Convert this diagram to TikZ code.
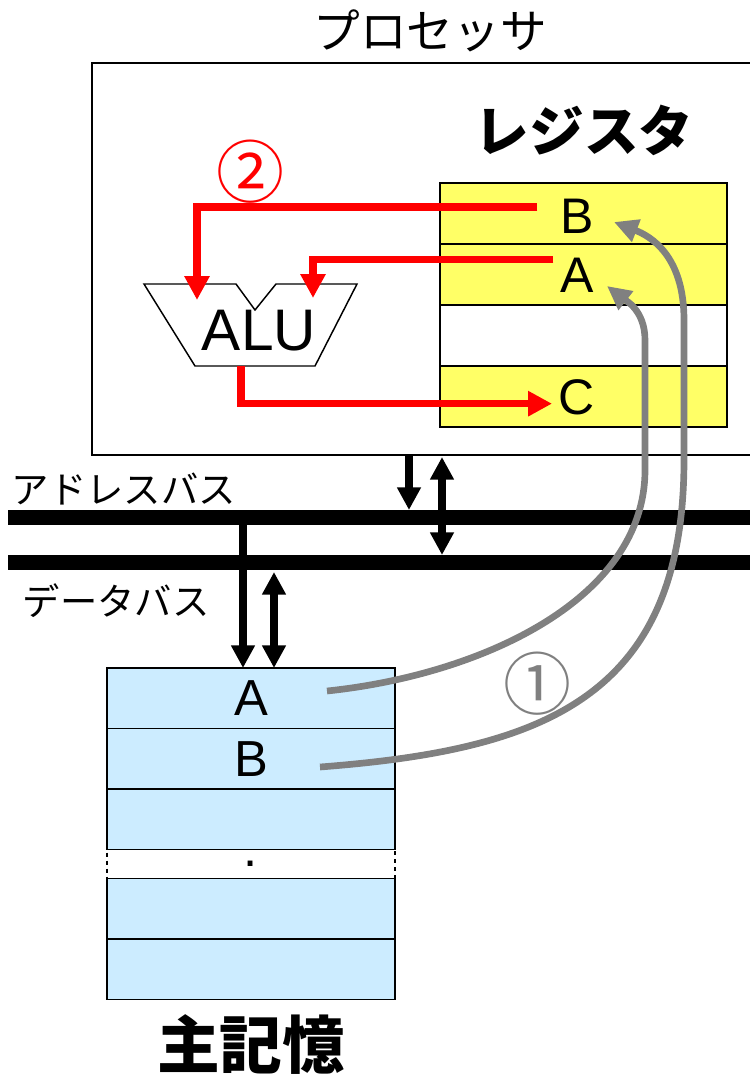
\documentclass[tikz,border=0pt]{standalone}
\usepackage{fontspec}
\setmainfont{Liberation Sans}
\newfontfamily\jpfont{Noto Sans CJK JP}
\usetikzlibrary{arrows.meta, positioning}
\definecolor{regyellow}{RGB}{255,255,102}
\definecolor{memblue}{RGB}{204,236,255}
\definecolor{flowred}{RGB}{255,0,0}
\definecolor{loadgray}{RGB}{128,128,128}
\tikzset{
  cell/.style={draw, line width=1.2pt, inner sep=0pt, outer sep=0pt},
  regcell/.style={cell, fill=regyellow, minimum width=215.5pt, minimum height=45.75pt},
  memcell/.style={cell, fill=memblue, minimum width=216pt, minimum height=45.4pt,
                  font=\fontsize{38}{38}\selectfont},
  regtext/.style={font=\fontsize{37.5}{37.5}\selectfont, inner sep=5pt},
  redflow/.style={draw=flowred, line width=5.6pt, -{Triangle[length=18pt,width=18pt]}},
  grayflow/.style={draw=loadgray, line width=5pt, -{Triangle[length=18pt,width=17pt]}},
  busline/.style={line width=11pt},
  busarrow/.style={line width=5.3pt, -{Triangle[length=17pt,width=17pt]}},
  busboth/.style={busarrow, {Triangle[length=17pt,width=17pt]}-{Triangle[length=17pt,width=17pt]}}
}
\begin{document}
\begin{tikzpicture}[x=0.75pt, y=-0.75pt]
  \useasboundingbox (0,0) rectangle (750,1075);
  % Processor
  \node[cell, line width=1.1pt, minimum width=501pt, minimum height=294pt] (proc) at (426,259) {};
  \node[font=\jpfont\fontsize{35}{35}\selectfont] (procTitle) at (430,31) {プロセッサ};
  \node[font=\jpfont\bfseries\fontsize{41}{41}\selectfont] (regTitle) at (584,130) {レジスタ};
  % Registers
  \node[regcell] (regB) at (583.5,213.5) {};
  \node[regcell, below=0pt of regB] (regA) {};
  \node[regcell, fill=white, below=0pt of regA] (regE) {};
  \node[regcell, below=0pt of regE] (regC) {};
  \node[regtext] (txtB) at (577,216) {B};
  \node[regtext] (txtA) at (577,275.5) {A};
  \node[regtext] (txtC) at (577,397) {C};
  % ALU
  \draw[line width=1.1pt, fill=white] (144,284) -- (236,284) -- (255,310) -- (276,284)
    -- (357,284) -- (315,366) -- (195,366) -- cycle;
  \node[font=\fontsize{44}{44}\selectfont, inner sep=0pt] (alu) at (259,331) {ALU};
  \coordinate (aluInL) at (197,300);
  \coordinate (aluInR) at (313,298);
  \coordinate (aluOut) at (241,366);
  % Step 2
  \draw[redflow] ([shift={(-12pt,6.75pt)}]txtB.west) -| (aluInL);
  \draw[redflow] ([yshift=12pt]txtA.west) -| (aluInR);
  \draw[redflow] (aluOut) |- ([yshift=-5pt]txtC.west);
  \node[text=flowred, font=\jpfont\fontsize{51}{51}\selectfont] (stepTwo) at (250,172) {②};
  % Buses
  \coordinate (abusL) at (8,517.5);
  \coordinate (abusR) at (760,517.5);
  \coordinate (dbusL) at (8,562.5);
  \coordinate (dbusR) at (760,562.5);
  \draw[busline] (abusL) -- (abusR);
  \draw[busline] (dbusL) -- (dbusR);
  \node[font=\jpfont\fontsize{28}{28}\selectfont] (abusText) at (124,489) {アドレスバス};
  \node[font=\jpfont\fontsize{28}{28}\selectfont] (dbusText) at (116,601) {データバス};
  % Main memory
  \node[memcell] (memA) at (251,698.25) {A};
  \node[memcell, below=0pt of memA] (memB) {B};
  \node[memcell, below=0pt of memB] (memC) {};
  \node[memcell, fill=white, dashed, minimum height=21.75pt, below=0pt of memC] (memDots) {.};
  \node[memcell, below=0pt of memDots] (memD) {};
  \node[memcell, below=0pt of memD] (memE) {};
  \node[font=\jpfont\bfseries\fontsize{47}{47}\selectfont] (memTitle) at (251,1045) {主記憶};
  % Bus taps
  \coordinate (tapAddr) at (409,510);
  \coordinate (tapData) at (442,555);
  \coordinate (memAddr) at (243,517.5);
  \coordinate (memData) at (274,572);
  \draw[busarrow] (proc.south -| tapAddr) -- (tapAddr);
  \draw[busboth] ([yshift=-1.5pt]proc.south -| tapData) -- (tapData);
  \draw[busarrow] (memAddr) -- (memAddr |- memA.north);
  \draw[busboth] (memData) -- (memData |- memA.north);
  % Step 1
  \coordinate (srcA) at (327,691);
  \coordinate (srcB) at (320,767);
  \coordinate (tipA) at (607,286);
  \coordinate (tipB) at (614,222);
  \draw[grayflow] (srcA) .. controls (480,675) and (645,600) .. (645,470)
    -- (645,340) .. controls (645,310) and (625,300) .. (tipA);
  \draw[grayflow] (srcB) .. controls (540,750) and (684,700) .. (684,460)
    -- (684,320) .. controls (684,255) and (650,236) .. (tipB);
  \node[text=loadgray, font=\jpfont\fontsize{51}{51}\selectfont] (stepOne) at (537,684) {①};
\end{tikzpicture}
\end{document}
